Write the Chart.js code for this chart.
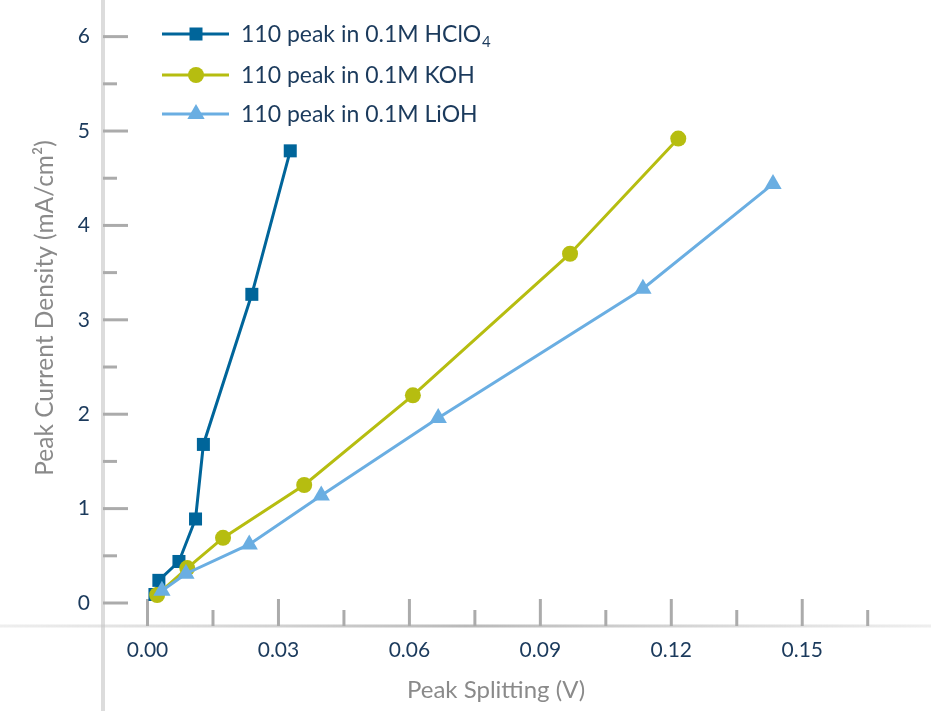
<!DOCTYPE html>
<html>
<head>
<meta charset="utf-8">
<script src="https://cdn.jsdelivr.net/npm/chart.js@4/dist/chart.umd.min.js"></script>
<style>
  html, body { margin: 0; padding: 0; background: #ffffff; }
  #wrap { position: relative; width: 931px; height: 711px; }
</style>
</head>
<body>
<div id="wrap"><canvas id="myChart" width="931" height="711"></canvas></div>
<script>
// data
var seriesNames = ['110 peak in 0.1M HClO', '110 peak in 0.1M KOH', '110 peak in 0.1M LiOH']
var seriesSubs = ['4', '', '']

var hclo4X = [0.0017, 0.0026, 0.0072, 0.0110, 0.0128, 0.0239, 0.0327]
var hclo4Y = [0.09, 0.24, 0.44, 0.89, 1.68, 3.27, 4.79]

var kohX = [0.0022, 0.0091, 0.0173, 0.0359, 0.0608, 0.0968, 0.1216]
var kohY = [0.085, 0.37, 0.69, 1.25, 2.20, 3.70, 4.92]

var liohX = [0.0033, 0.0088, 0.0233, 0.0398, 0.0666, 0.1135, 0.1433]
var liohY = [0.13, 0.31, 0.62, 1.14, 1.96, 3.33, 4.44]

var xTicks = [0, 0.015, 0.03, 0.045, 0.06, 0.075, 0.09, 0.105, 0.12, 0.135, 0.15, 0.165]
var xTickLabels = ['0.00', '', '0.03', '', '0.06', '', '0.09', '', '0.12', '', '0.15', '']
var yTicks = [0, 0.5, 1, 1.5, 2, 2.5, 3, 3.5, 4, 4.5, 5, 5.5, 6]
var yTickLabels = ['0', '', '1', '', '2', '', '3', '', '4', '', '5', '', '6']

var colors = ['#00659a', '#b6bd10', '#6aaee2']
var styles = ['rect', 'circle', 'triangle']
var radii = [9.2, 8, 10]

function toPoints(xs, ys){
    var pts = []
    for (let i = 0; i < xs.length; i++){
        pts.push({x: xs[i], y: ys[i]})
    }
    return pts
}

function makeSet(i, pts, order){
    return {
        label: seriesNames[i] + seriesSubs[i],
        data: pts,
        borderColor: colors[i],
        backgroundColor: colors[i],
        borderWidth: 3,
        pointStyle: styles[i],
        pointRadius: radii[i],
        pointBorderWidth: 0,
        pointHoverRadius: radii[i],
        tension: 0,
        order: order
    }
}

var textColor = '#1b3a5c'
var font = 'Lato, "Open Sans", sans-serif'

function drawMarker(ctx, style, x, y, r){
    ctx.beginPath()
    if (style == 'rect'){
        let s = r * Math.SQRT1_2
        ctx.rect(x - s, y - s, 2 * s, 2 * s)
    } else if (style == 'circle'){
        ctx.arc(x, y, r, 0, Math.PI * 2)
    } else {
        ctx.moveTo(x, y - r)
        ctx.lineTo(x + r * Math.sin(Math.PI * 2 / 3), y - r * Math.cos(Math.PI * 2 / 3))
        ctx.lineTo(x + r * Math.sin(Math.PI * 4 / 3), y - r * Math.cos(Math.PI * 4 / 3))
        ctx.closePath()
    }
    ctx.fill()
}

// axes, inward ticks, labels and legend
var axesPlugin = {
    id: 'axesPlugin',
    beforeDatasetsDraw(chart){
        let ctx = chart.ctx
        let xs = chart.scales.x
        let ys = chart.scales.y
        let left = chart.chartArea.left
        let bottom = chart.chartArea.bottom
        ctx.save()

        // vertical axis line
        ctx.strokeStyle = '#dcdcdc'
        ctx.lineWidth = 4
        ctx.beginPath()
        ctx.moveTo(left, 0)
        ctx.lineTo(left, chart.height)
        ctx.stroke()

        // horizontal axis line, fading to the edges
        let g = ctx.createLinearGradient(0, 0, chart.width, 0)
        g.addColorStop(0, 'rgba(200,200,200,0.3)')
        g.addColorStop(0.5, 'rgba(185,185,185,1)')
        g.addColorStop(1, 'rgba(200,200,200,0.3)')
        ctx.strokeStyle = g
        ctx.lineWidth = 3
        ctx.beginPath()
        ctx.moveTo(0, bottom)
        ctx.lineTo(chart.width, bottom)
        ctx.stroke()

        ctx.strokeStyle = '#ababab'
        ctx.lineWidth = 3
        ctx.font = '21px ' + font
        ctx.fillStyle = textColor

        for (let i = 0; i < yTicks.length; i++){
            let py = ys.getPixelForValue(yTicks[i])
            let len = yTickLabels[i] ? 25 : 14
            ctx.beginPath()
            ctx.moveTo(left, py)
            ctx.lineTo(left + len, py)
            ctx.stroke()
            if (yTickLabels[i]){
                ctx.textAlign = 'right'
                ctx.textBaseline = 'middle'
                ctx.fillText(yTickLabels[i], 90, py)
            }
        }

        for (let i = 0; i < xTicks.length; i++){
            let px = xs.getPixelForValue(xTicks[i])
            let len = xTickLabels[i] ? 27 : 16
            ctx.beginPath()
            ctx.moveTo(px, bottom)
            ctx.lineTo(px, bottom - len)
            ctx.stroke()
            if (xTickLabels[i]){
                ctx.textAlign = 'center'
                ctx.textBaseline = 'middle'
                ctx.fillText(xTickLabels[i], px, 650)
            }
        }

        // axis titles
        ctx.fillStyle = '#8a8a8a'
        ctx.font = '24px ' + font
        ctx.textAlign = 'center'
        ctx.textBaseline = 'middle'
        ctx.fillText('Peak Splitting (V)', 496, 690)

        ctx.save()
        ctx.translate(45, 308)
        ctx.rotate(-Math.PI / 2)
        ctx.font = '24.5px ' + font
        ctx.fillText('Peak Current Density (mA/cm\u00B2)', 0, 0)
        ctx.restore()

        // legend
        let rows = [34, 75, 114]
        for (let i = 0; i < seriesNames.length; i++){
            let ry = rows[i]
            ctx.strokeStyle = colors[i]
            ctx.fillStyle = colors[i]
            ctx.lineWidth = 3
            ctx.beginPath()
            ctx.moveTo(162, ry)
            ctx.lineTo(229, ry)
            ctx.stroke()
            drawMarker(ctx, styles[i], 196, ry, radii[i])

            ctx.fillStyle = textColor
            ctx.font = '23px ' + font
            ctx.textAlign = 'left'
            ctx.textBaseline = 'middle'
            ctx.fillText(seriesNames[i], 241, ry + 1)
            if (seriesSubs[i]){
                let w = ctx.measureText(seriesNames[i]).width
                ctx.font = '15px ' + font
                ctx.fillText(seriesSubs[i], 241 + w + 1, ry + 8)
            }
        }
        ctx.restore()
    }
}

let myChart = document.getElementById('myChart').getContext('2d')

var peakChart = new Chart(myChart, {
    type: 'line',
    data: {
        datasets: [
            makeSet(0, toPoints(hclo4X, hclo4Y), 3),
            makeSet(1, toPoints(kohX, kohY), 2),
            makeSet(2, toPoints(liohX, liohY), 1)
        ]
    },
    options: {
        responsive: false,
        animation: false,
        layout: {autoPadding: false, padding: {left: 103, right: 0, top: 0, bottom: 85}},
        plugins: {legend: {display: false}, tooltip: {enabled: false}},
        scales: {
            x: {type: 'linear', min: -0.0102, max: 0.1795, display: false},
            y: {type: 'linear', min: -0.2436, max: 6.388, display: false}
        }
    },
    plugins: [axesPlugin]
})
</script>
</body>
</html>
